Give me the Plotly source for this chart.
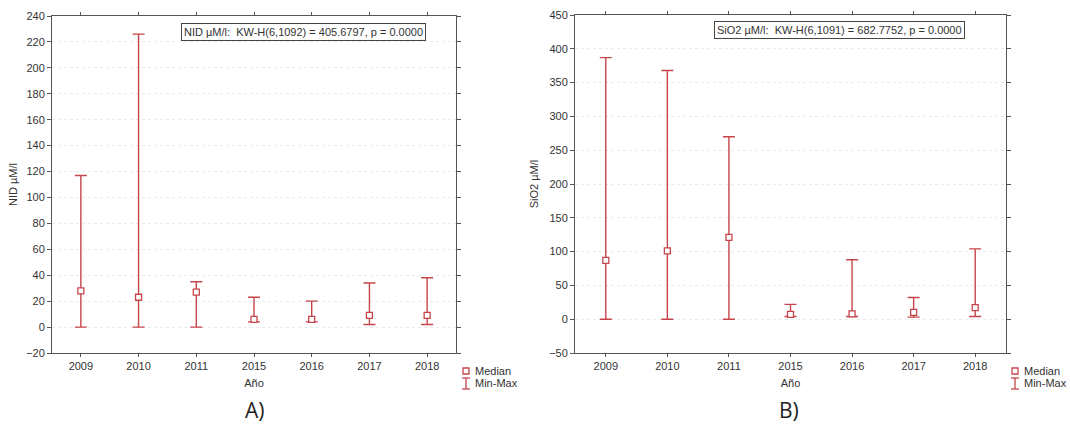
import plotly.graph_objects as go

# Sampling years (categorical axis)
years = ["2009", "2010", "2011", "2015", "2016", "2017", "2018"]

# NID (µM/l): median, minimum, maximum per year
nid_median = [28, 23, 27, 6, 6, 9, 9]
nid_min = [0, 0, 0, 4, 4, 2, 2]
nid_max = [117, 226, 35, 23, 20, 34, 38]

# SiO2 (µM/l): median, minimum, maximum per year
sio2_median = [87, 101, 121, 7, 8, 10, 17]
sio2_min = [0, 0, 0, 4, 4, 3, 4]
sio2_max = [387, 368, 270, 22, 88, 32, 104]

# Axis ticks
nid_ticks = list(range(-20, 241, 20))
sio2_ticks = list(range(-50, 451, 50))

W, H = 1070, 424
RED = "#c5454b"
AXIS = "#555555"
TXT = "#333333"
FONT = "Liberation Sans, Arial, sans-serif"


def px(x):
    return x / W


def py(y):
    return 1 - y / H


fig = go.Figure()


def add_panel(median, lo, hi, xa, ya):
    fig.add_trace(go.Scatter(
        x=years, y=median, mode="markers", xaxis=xa, yaxis=ya,
        showlegend=False,
        marker=dict(symbol="square", size=6, color="white",
                    line=dict(color=RED, width=1.3)),
        error_y=dict(type="data", symmetric=False,
                     array=[h - m for h, m in zip(hi, median)],
                     arrayminus=[m - l for m, l in zip(median, lo)],
                     color=RED, thickness=1.4, width=6),
    ))


add_panel(nid_median, nid_min, nid_max, "x", "y")
add_panel(sio2_median, sio2_min, sio2_max, "x2", "y2")

xcommon = dict(type="category", range=[-0.5, 6.5], showgrid=False,
               showline=True, linecolor=AXIS, linewidth=1, mirror="ticks",
               ticks="outside", ticklen=3, tickcolor=AXIS, automargin=False,
               tickfont=dict(size=11, color=TXT, family=FONT),
               title=dict(text="Año", font=dict(size=11, color=TXT, family=FONT),
                          standoff=8),
               zeroline=False)
ycommon = dict(showgrid=True, gridcolor="#ebebeb", griddash="dot", gridwidth=1,
               showline=True, linecolor=AXIS, linewidth=1, mirror="ticks",
               ticks="outside", ticklen=4, tickcolor=AXIS, automargin=False,
               tickfont=dict(size=11, color=TXT, family=FONT),
               zeroline=False)

fig.update_layout(
    width=W, height=H,
    margin=dict(l=0, r=0, t=0, b=0, pad=0),
    paper_bgcolor="white", plot_bgcolor="white",
    font=dict(family=FONT, color=TXT),
    showlegend=False,
    xaxis=dict(domain=[px(52), px(456)], anchor="y", **xcommon),
    yaxis=dict(domain=[py(353), py(16)], anchor="x", range=[-20, 240],
               tickvals=nid_ticks,
               title=dict(text="NID µM/l", font=dict(size=11, color=TXT, family=FONT),
                          standoff=6),
               **ycommon),
    xaxis2=dict(domain=[px(575), px(1006)], anchor="y2", **xcommon),
    yaxis2=dict(domain=[py(353), py(15)], anchor="x2", range=[-50, 450],
                tickvals=sio2_ticks,
                title=dict(text="SiO2 µM/l", font=dict(size=11, color=TXT, family=FONT),
                           standoff=8),
                **ycommon),
)


def note(x, y, text, size=11, anchor="center", **kw):
    fig.add_annotation(x=px(x), y=py(y), xref="paper", yref="paper",
                       text=text, showarrow=False, xanchor=anchor,
                       yanchor="middle",
                       font=dict(size=size, color=kw.pop("color", TXT),
                                 family=kw.pop("family", FONT)), **kw)


# Kruskal-Wallis statistic boxes
note(303, 32, "NID µM/l:  KW-H(6,1092) = 405.6797, p = 0.0000",
     bgcolor="white", bordercolor="#444", borderwidth=1, borderpad=2)
note(839, 30, "SiO2 µM/l:  KW-H(6,1091) = 682.7752, p = 0.0000",
     bgcolor="white", bordercolor="#444", borderwidth=1, borderpad=2)

# Panel labels
note(254, 410, "A)", size=21, color="#222", family="Open Sans, sans-serif")
note(789, 410, "B)", size=21, color="#222", family="Open Sans, sans-serif")

# Legend keys (Median square, Min-Max whisker) next to each panel
for lx in (466, 1015):
    fig.add_shape(type="rect", xref="paper", yref="paper",
                  x0=px(lx - 3), x1=px(lx + 3), y0=py(374), y1=py(368),
                  line=dict(color=RED, width=1.3), fillcolor="white")
    fig.add_shape(type="line", xref="paper", yref="paper",
                  x0=px(lx), x1=px(lx), y0=py(389), y1=py(378),
                  line=dict(color=RED, width=1.3))
    for yy in (378, 389):
        fig.add_shape(type="line", xref="paper", yref="paper",
                      x0=px(lx - 4), x1=px(lx + 4), y0=py(yy), y1=py(yy),
                      line=dict(color=RED, width=1.3))
    note(lx + 7, 371, "Median", anchor="left")
    note(lx + 7, 383, "Min-Max", anchor="left")

fig.write_html("out.html")
